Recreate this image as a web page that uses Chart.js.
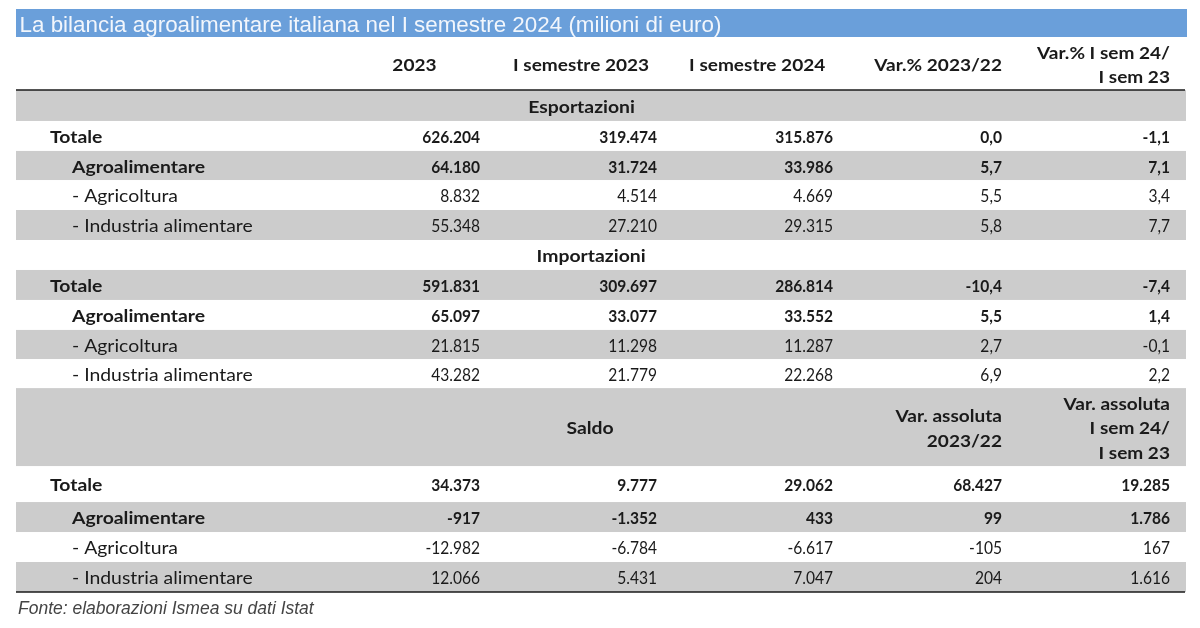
<!DOCTYPE html>
<html>
<head>
<meta charset="utf-8">
<script src="https://cdn.jsdelivr.net/npm/chart.js@4/dist/chart.umd.min.js"></script>
<style>
  html,body{margin:0;padding:0;background:#fff;}
  canvas{display:block;}
</style>
</head>
<body>
<canvas id="c" width="1200" height="628"></canvas>
<script>
// ---------- DATA ----------
const titleText = 'La bilancia agroalimentare italiana nel I semestre 2024 (milioni di euro)';
const sourceText = 'Fonte: elaborazioni Ismea su dati Istat';
const sections = ['Esportazioni', 'Importazioni', 'Saldo'];
const rowLabels = ['Totale', 'Agroalimentare', '- Agricoltura', '- Industria alimentare'];
const columns = ['2023', 'I semestre 2023', 'I semestre 2024', 'Var.% 2023/22', 'Var.% I sem 24/\nI sem 23'];
const saldoVarHeaders = ['Var. assoluta\n2023/22', 'Var. assoluta\nI sem 24/\nI sem 23'];

const exp2023  = [626204, 64180, 8832, 55348];
const expSem23 = [319474, 31724, 4514, 27210];
const expSem24 = [315876, 33986, 4669, 29315];
const expVar23 = [0.0, 5.7, 5.5, 5.8];
const expVarSem = [-1.1, 7.1, 3.4, 7.7];

const imp2023  = [591831, 65097, 21815, 43282];
const impSem23 = [309697, 33077, 11298, 21779];
const impSem24 = [286814, 33552, 11287, 22268];
const impVar23 = [-10.4, 5.5, 2.7, 6.9];
const impVarSem = [-7.4, 1.4, -0.1, 2.2];

const sal2023  = [34373, -917, -12982, 12066];
const salSem23 = [9777, -1352, -6784, 5431];
const salSem24 = [29062, 433, -6617, 7047];
const salVar23 = [68427, 99, -105, 204];
const salVarSem = [19285, 1786, 167, 1616];

// ---------- LAYOUT (not data) ----------
const rowHeights = [1.77, 1.03, 1, 0.97, 1, 1, 1, 1, 1, 0.97, 0.97, 2.6, 1.2, 1, 1, 1];
const colPos = [0.98, 2.006, 3.027, 4.006, 4.98];       // right edge of each value column (x-scale units)
const headerShift = [-0.38, -0.44, -0.44, 0, 0];
const headerAlign = ['center', 'center', 'center', 'right', 'right'];
const sectionX = [1.569, 1.624, 1.618];
const BODY_FONT = 'Lato, "Open Sans", sans-serif';
const TEXT_SIZE = 17;
const NUM_SIZE = 17.8;
const SX_LABEL = 1.14;     // horizontal stretch to mimic the original face
const SX_HEAD = 1.12;
const SX_NUM = 0.875;
const LINE_GAP = 24.5;
const GRAY = '#cccccc';
const TEXT = '#1a1a1a';

function fmtInt(v) {
  const s = Math.abs(v).toString().replace(/\B(?=(\d{3})+(?!\d))/g, '.');
  return (v < 0 ? '-' : '') + s;
}
function fmtPct(v) {
  return (v < 0 ? '-' : '') + Math.abs(v).toFixed(1).replace('.', ',');
}

// Build table rows
const rows = [];
rows.push({type: 'colheader'});
const blocks = [
  {cols: [exp2023, expSem23, expSem24, expVar23, expVarSem], pct: true},
  {cols: [imp2023, impSem23, impSem24, impVar23, impVarSem], pct: true},
  {cols: [sal2023, salSem23, salSem24, salVar23, salVarSem], pct: false}
];
blocks.forEach((b, s) => {
  rows.push({type: 'section', text: sections[s], sec: s});
  rowLabels.forEach((lab, i) => {
    rows.push({type: 'data', label: lab, idx: i, cols: b.cols, pct: b.pct});
  });
});
const cum = [0];
rowHeights.forEach(h => cum.push(cum[cum.length - 1] + h));

function drawLines(ctx, text, x, yc, align, bold, sx, size) {
  const lines = text.split('\n');
  const n = lines.length;
  lines.forEach((ln, i) => {
    ctx.save();
    ctx.font = (bold ? 'bold ' : '') + (size || TEXT_SIZE) + 'px ' + BODY_FONT;
    ctx.textAlign = align;
    ctx.textBaseline = 'alphabetic';
    ctx.translate(x, yc + 7.3 + (i - (n - 1) / 2) * LINE_GAP);
    ctx.scale(sx, 1);
    ctx.fillText(ln, 0, 0);
    ctx.restore();
  });
}

const tablePlugin = {
  id: 'tablePlugin',
  beforeDraw(chart) {
    const ctx = chart.ctx;
    const ys = chart.scales.y;
    const area = chart.chartArea;
    ctx.save();
    ctx.fillStyle = '#fff';
    ctx.fillRect(0, 0, chart.width, chart.height);
    // title band
    ctx.fillStyle = '#6a9fda';
    ctx.fillRect(area.left, 9, area.right - area.left + 1, area.top - 9);
    ctx.fillStyle = '#f2f6fc';
    ctx.font = '22.4px "Liberation Sans", Arial, sans-serif';
    ctx.textAlign = 'left';
    ctx.textBaseline = 'alphabetic';
    ctx.fillText(titleText, area.left + 3.5, 32);
    // gray bands
    rows.forEach((r, i) => {
      if (i % 2 === 1) {
        const top = ys.getPixelForValue(cum[i]);
        const bot = ys.getPixelForValue(cum[i + 1]);
        ctx.fillStyle = GRAY;
        ctx.fillRect(area.left, top, area.right - area.left, bot - top);
      }
    });
    ctx.restore();
  },
  afterDraw(chart) {
    const ctx = chart.ctx;
    const xs = chart.scales.x, ys = chart.scales.y;
    const area = chart.chartArea;
    ctx.save();
    ctx.fillStyle = TEXT;
    rows.forEach((r, i) => {
      const top = ys.getPixelForValue(cum[i]);
      const bot = ys.getPixelForValue(cum[i + 1]);
      const yc = (top + bot) / 2;
      if (r.type === 'colheader') {
        columns.forEach((c, k) => {
          drawLines(ctx, c, xs.getPixelForValue(colPos[k] + headerShift[k]), yc, headerAlign[k], true, SX_HEAD);
        });
      } else if (r.type === 'section') {
        drawLines(ctx, r.text, xs.getPixelForValue(sectionX[r.sec]), yc, 'center', true, SX_LABEL);
        if (r.sec === 2) {
          saldoVarHeaders.forEach((h, k) => {
            drawLines(ctx, h, xs.getPixelForValue(colPos[k + 3]), yc, 'right', true, SX_HEAD);
          });
        }
      } else {
        const bold = r.idx < 2;
        const lx = area.left + (r.idx === 0 ? 34 : 56);
        drawLines(ctx, r.label, lx, yc, 'left', bold, SX_LABEL);
        r.cols.forEach((arr, k) => {
          const v = arr[r.idx];
          const s = (k >= 3 && r.pct) ? fmtPct(v) : fmtInt(v);
          drawLines(ctx, s, xs.getPixelForValue(colPos[k]), yc, 'right', bold, SX_NUM, NUM_SIZE);
        });
      }
    });
    // rules
    ctx.strokeStyle = '#1a1a1a';
    ctx.lineWidth = 1.6;
    [1, rows.length].forEach(idx => {
      const y = ys.getPixelForValue(cum[idx]);
      ctx.beginPath();
      ctx.moveTo(area.left, y);
      ctx.lineTo(area.right - 1, y);
      ctx.stroke();
    });
    // source
    ctx.fillStyle = '#444';
    ctx.font = 'italic 17.5px "Liberation Sans", Arial, sans-serif';
    ctx.textAlign = 'left';
    ctx.fillText(sourceText, area.left + 2, 614);
    ctx.restore();
  }
};

new Chart(document.getElementById('c'), {
  type: 'scatter',
  data: {datasets: []},
  options: {
    responsive: false,
    animation: false,
    devicePixelRatio: 1,
    layout: {padding: {left: 16, right: 14, top: 37, bottom: 36}},
    plugins: {legend: {display: false}, tooltip: {enabled: false}, title: {display: false}},
    scales: {
      x: {type: 'linear', min: -1.71, max: 5.073, offset: false, display: false},
      y: {type: 'linear', min: 0, max: cum[cum.length - 1], reverse: true, offset: false, display: false}
    }
  },
  plugins: [tablePlugin]
});
</script>
</body>
</html>
